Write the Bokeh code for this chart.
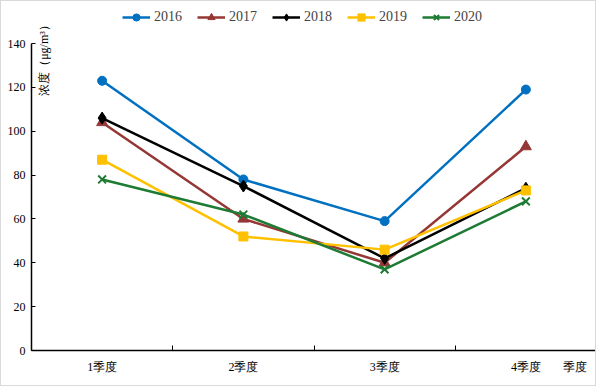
import math
from bokeh.plotting import figure
from bokeh.models import Range1d, FixedTicker, Label, Legend, LegendItem
from bokeh.embed import file_html
from bokeh.resources import INLINE

categories = ["1季度", "2季度", "3季度", "4季度"]
years = ["2016", "2017", "2018", "2019", "2020"]
v2016 = [123, 78, 59, 119]
v2017 = [104, 60, 40, 93]
v2018 = [106, 75, 42, 74]
v2019 = [87, 52, 46, 73]
v2020 = [78, 62, 37, 68]
y_ticks = [0, 20, 40, 60, 80, 100, 120, 140]
x_title = "季度"
y_title = "浓度（μg/m³）"

series = [v2016, v2017, v2018, v2019, v2020]
colors = ["#0070C0", "#953735", "#000000", "#FFC000", "#1E7B34"]
markers = ["circle", "triangle", "diamond", "square", "x"]
msizes = [9, 11, 12, 9, 11]

serif = "Liberation Serif"

# layout geometry (pixels)
W, H = 596, 386
B_LEFT, B_RIGHT, B_TOP, B_BOTTOM = 30, 1, 2, 37
frame_h = H - B_TOP - B_BOTTOM
axis_px = 307  # pixels spanned by 0..140
y_max = y_ticks[-1] * frame_h / axis_px

p = figure(width=W, height=H, x_range=Range1d(0, len(categories)),
           y_range=Range1d(0, y_max), output_backend="svg", toolbar_location=None,
           min_border_left=B_LEFT, min_border_right=B_RIGHT, min_border_top=B_TOP,
           min_border_bottom=B_BOTTOM)
p.outline_line_color = None
p.xgrid.visible = False
p.ygrid.visible = False
p.styles = {"border": "1px solid #d9d9d9"}

xs = [i + 0.5 for i in range(len(categories))]
x_title_pos = len(categories) - 0.15

# x axis: labels at band centers, small ticks at band boundaries
p.xaxis.ticker = FixedTicker(ticks=xs + [x_title_pos],
                             minor_ticks=list(range(len(categories) + 1)))
overrides = {x: c for x, c in zip(xs, categories)}
overrides[x_title_pos] = x_title
p.xaxis.major_label_overrides = overrides
p.xaxis.major_tick_in = 0
p.xaxis.major_tick_out = 0
p.xaxis.minor_tick_in = 5
p.xaxis.minor_tick_out = 0
p.xaxis.minor_tick_line_color = "black"
p.xaxis.axis_line_color = "black"
p.xaxis.axis_line_width = 1.5
p.xaxis.major_label_standoff = 9
p.xaxis.major_label_text_font = serif
p.xaxis.major_label_text_font_size = "12px"
p.xaxis.major_label_text_color = "black"

p.yaxis.ticker = FixedTicker(ticks=y_ticks, minor_ticks=[])
p.yaxis.bounds = (y_ticks[0], y_ticks[-1])
p.yaxis.major_tick_in = 4
p.yaxis.major_tick_out = 0
p.yaxis.minor_tick_in = 0
p.yaxis.minor_tick_out = 0
p.yaxis.axis_line_color = "black"
p.yaxis.axis_line_width = 1.5
p.yaxis.major_label_standoff = 6
p.yaxis.major_label_text_font = serif
p.yaxis.major_label_text_font_size = "12px"
p.yaxis.major_label_text_color = "black"

items = []
for yr, vals, c, m, s in zip(years, series, colors, markers, msizes):
    r1 = p.line(xs, vals, line_color=c, line_width=2.5)
    if m == "x":
        r2 = p.scatter(xs, vals, marker=m, size=s, line_color=c, line_width=2)
    else:
        r2 = p.scatter(xs, vals, marker=m, size=s, fill_color=c, line_color=c)
    items.append(LegendItem(label=yr, renderers=[r1, r2]))

legend = Legend(items=items, location=(91, 324), orientation="horizontal",
                border_line_alpha=0, background_fill_alpha=0, padding=0, margin=0,
                spacing=15, glyph_width=28, glyph_height=18, label_standoff=4,
                label_text_font=serif, label_text_font_size="14px",
                label_height=18)
p.add_layout(legend, "center")

ylab = Label(x=12, y=293, x_units="screen", y_units="screen", text=y_title,
             angle=math.pi / 2, text_align="center", text_baseline="middle",
             text_font=serif, text_font_size="12px", text_color="black")
p.add_layout(ylab)

open("out.html", "w").write(file_html(p, INLINE))
